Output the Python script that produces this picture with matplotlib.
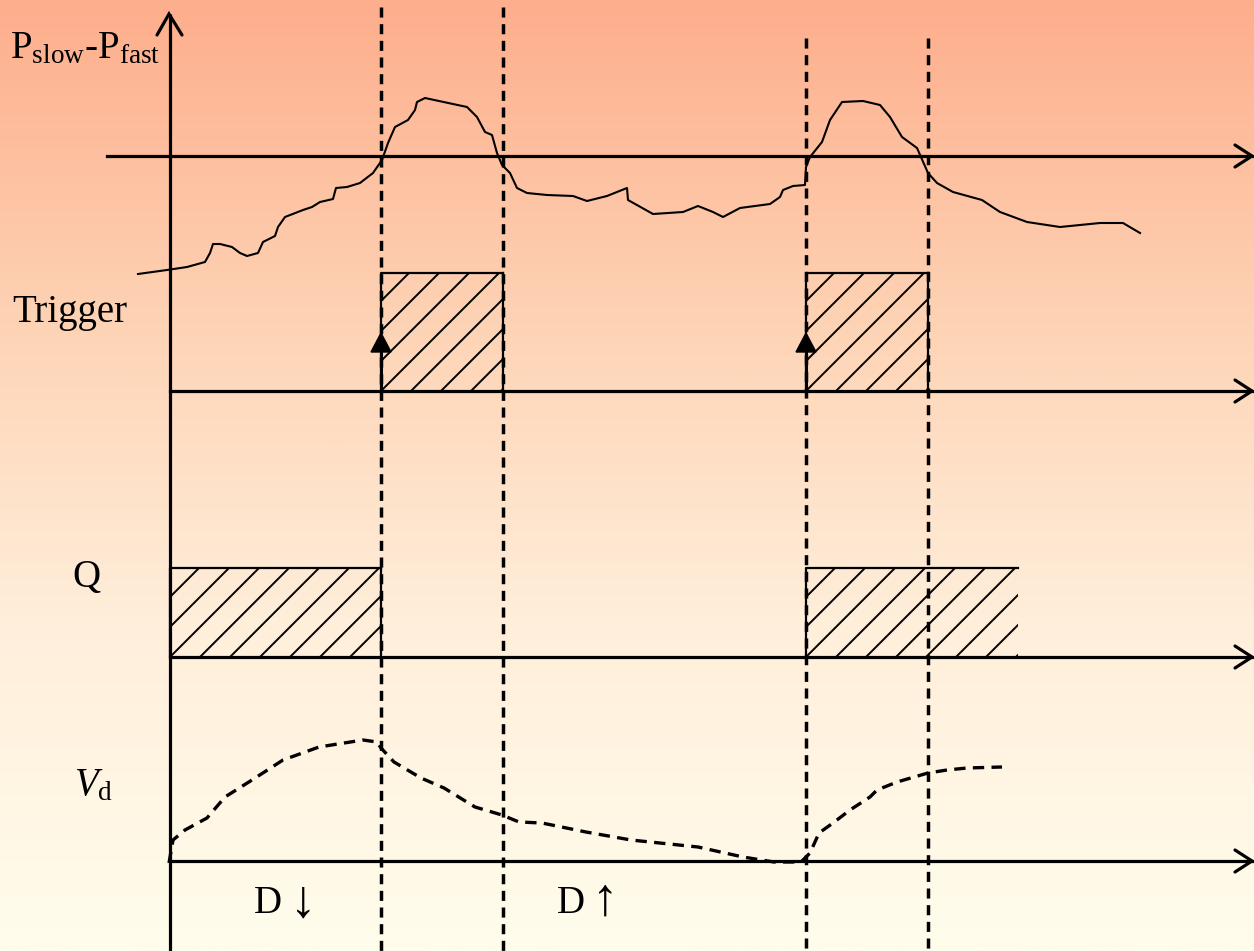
import numpy as np
import matplotlib
matplotlib.use("Agg")
import matplotlib.pyplot as plt
from matplotlib.patches import Rectangle, Polygon
from matplotlib.colors import LinearSegmentedColormap

plt.rcParams['font.family'] = ['Liberation Serif', 'DejaVu Serif']
plt.rcParams['mathtext.fontset'] = 'custom'
plt.rcParams['mathtext.rm'] = 'Liberation Serif'
plt.rcParams['mathtext.it'] = 'Liberation Serif:italic'

# ---------------- data (pixel-space schematic) ----------------
W, H = 1254, 951
vaxis_x = 170
axis_y = [156, 391, 657, 861]          # baselines of the 4 traces
axis_start = [107, 170, 170, 170]
event_x = [381, 503, 806, 928]          # dashed event lines
event_top = [7, 7, 38, 38]

p_x = [138, 167, 187, 205, 210, 213, 220, 232, 240, 247, 258, 263, 275, 278, 285, 303,
       312, 320, 333, 336, 347, 360, 373, 382, 388, 395, 408, 415, 417, 425, 467, 477,
       485, 492, 497, 502, 510, 517, 527, 547, 573, 587, 607, 627, 628, 653, 683, 698,
       713, 723, 740, 770, 780, 783, 793, 805, 806, 810, 822, 830, 842, 863, 880, 890,
       902, 917, 928, 937, 953, 982, 1000, 1027, 1060, 1100, 1123, 1140]
p_y = [274, 270, 267, 262, 253, 244, 244, 247, 253, 256, 253, 242, 236, 227, 217, 210,
       207, 202, 199, 188, 187, 183, 173, 160, 143, 127, 120, 110, 102, 98, 107, 117,
       132, 135, 153, 165, 173, 188, 193, 195, 196, 201, 196, 188, 200, 214, 212, 206,
       212, 217, 208, 204, 197, 190, 186, 185, 167, 157, 142, 120, 102, 101, 105, 117,
       137, 148, 173, 183, 192, 200, 212, 222, 227, 223, 223, 233]

trigger_top = 273
trigger_boxes = [(381, 503), (806, 928)]
q_top = 568
q_boxes = [(170, 381, True), (806, 1018, False)]   # (x0, x1, right edge drawn)

vd_x = [169, 173, 185, 207, 225, 252, 283, 319, 363, 377, 381, 394, 421, 444, 475, 502,
        519, 542, 586, 631, 698, 743, 774, 801, 810, 819, 833, 850, 870, 877, 897, 928,
        947, 967, 1002]
vd_y = [863, 840, 830, 818, 797, 780, 760, 747, 740, 742, 748, 762, 778, 788, 807, 815,
        822, 823, 832, 840, 847, 857, 862, 862, 853, 833, 823, 810, 797, 790, 782, 773,
        770, 768, 767]

hatch_step = 30

# ---------------- figure ----------------
fig = plt.figure(figsize=(W / 100, H / 100), dpi=100)
ax = fig.add_axes([0, 0, 1, 1])
ax.set_xlim(0, W)
ax.set_ylim(H, 0)
ax.axis('off')

cmap = LinearSegmentedColormap.from_list(
    'bg', [(0.0, '#FDAE8C'), (0.35, '#FED4B6'), (0.65, '#FFEEDA'), (1.0, '#FFFDEC')])
grad = np.linspace(0, 1, 512).reshape(-1, 1)
ax.imshow(grad, cmap=cmap, aspect='auto', extent=[0, W, H, 0], zorder=0)

LW_AX = 2.3
LW_BOX = 1.6

# dashed event lines
for ex, et in zip(event_x, event_top):
    ax.plot([ex, ex], [et, H], color='black', lw=2.5, ls=(0, (2.9, 1.9)), zorder=3)

# vertical axis with open arrowhead
ax.plot([vaxis_x, vaxis_x], [H, 14], color='black', lw=LW_AX, zorder=4, solid_capstyle='butt')
ax.plot([vaxis_x - 13, vaxis_x - 1, vaxis_x + 12], [35, 14, 35], color='black', lw=LW_AX,
        zorder=4, solid_capstyle='round', solid_joinstyle='miter')

# horizontal axes with open arrowheads
for ay, ax0 in zip(axis_y, axis_start):
    ax.plot([ax0, 1252], [ay, ay], color='black', lw=LW_AX, zorder=4)
    ax.plot([1235, 1252, 1235], [ay - 11, ay, ay + 11], color='black', lw=LW_AX,
            zorder=4, solid_capstyle='round')


def hatched_box(x0, x1, ytop, ybot, right_edge=True):
    rect = Rectangle((x0, ytop), x1 - x0, ybot - ytop, fill=False, lw=0)
    ax.add_patch(rect)
    h = ybot - ytop
    k0 = int(np.ceil(h / hatch_step))
    k1 = int(np.ceil((x1 - x0) / hatch_step))
    for k in range(-k0, k1 + 1):
        d = k * hatch_step
        ln, = ax.plot([x0 + d, x0 + d + 2 * h], [ybot, ybot - 2 * h], color='black',
                      lw=1.4, zorder=5)
        ln.set_clip_path(rect)
    ax.plot([x0, x0, x1], [ybot, ytop, ytop], color='black', lw=LW_BOX, zorder=5)
    if right_edge:
        ax.plot([x1, x1], [ytop, ybot], color='black', lw=LW_BOX, zorder=5)


for (x0, x1) in trigger_boxes:
    hatched_box(x0, x1, trigger_top, axis_y[1])
    # rising-edge arrow
    ax.plot([x0, x0], [axis_y[1], 350], color='black', lw=2.2, zorder=6)
    ax.add_patch(Polygon([[x0 - 10, 352], [x0 + 10, 352], [x0, 333]], closed=True,
                         color='black', zorder=6))

for (x0, x1, re) in q_boxes:
    hatched_box(x0, x1, q_top, axis_y[2], right_edge=re)

# P_slow - P_fast curve
ax.plot(p_x, p_y, color='black', lw=1.5, zorder=6, solid_joinstyle='round')

# V_d dashed curve
ax.plot(vd_x, vd_y, color='black', lw=2.4, ls=(0, (3.4, 2.2)), zorder=6)

# labels
FS = 28
ax.text(10, 58, r'P$_{\mathrm{slow}}$-P$_{\mathrm{fast}}$', fontsize=FS, ha='left',
        va='baseline', zorder=7)
ax.text(12, 322, 'Trigger', fontsize=FS, ha='left', va='baseline', zorder=7)
ax.text(72, 587, 'Q', fontsize=FS, ha='left', va='baseline', zorder=7)
ax.text(74, 795, r'$V_{\mathrm{d}}$', fontsize=FS, ha='left', va='baseline', zorder=7)
ax.text(254, 913, 'D', fontsize=FS, ha='left', va='baseline', zorder=7)
ax.text(303, 904, '\u2193', fontsize=38, ha='center', va='center', zorder=7)
ax.text(557, 913, 'D', fontsize=FS, ha='left', va='baseline', zorder=7)
ax.text(605, 902, '\u2191', fontsize=38, ha='center', va='center', zorder=7)

fig.savefig('out.png', dpi=100)
